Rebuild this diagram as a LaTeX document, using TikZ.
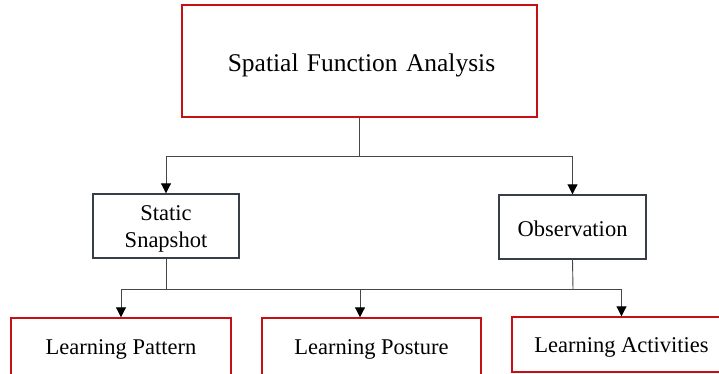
\documentclass[tikz,border=0pt]{standalone}
\usepackage{fontspec}
\setmainfont{Liberation Serif}
\usetikzlibrary{arrows.meta}
\definecolor{boxred}{RGB}{200,16,20}
\definecolor{boxgray}{RGB}{55,62,72}
\definecolor{linegray}{RGB}{70,70,70}
\tikzset{
  redbox/.style={draw=boxred, line width=1.4pt, rectangle, inner sep=0pt},
  graybox/.style={draw=boxgray, line width=1.4pt, rectangle, inner sep=0pt},
  txt/.style={inner sep=0pt, align=center, font=\fontsize{22.5}{27}\selectfont},
  conn/.style={draw=linegray, line width=0.9pt},
  arr/.style={conn, -{Triangle[length=10pt,width=10pt,color=black]}}
}
\begin{document}
\begin{tikzpicture}[x=1pt,y=-1pt]
\useasboundingbox (0,0) rectangle (719,373);
\clip (0,0) rectangle (719,373);
\fill[white] (0,0) rectangle (719,373);
% boxes
\node[redbox, minimum width=355pt, minimum height=112pt] (top) at (359.5,61) {};
\node[graybox, minimum width=146pt, minimum height=64pt] (stat) at (166,226) {};
\node[graybox, minimum width=147pt, minimum height=64pt] (obs) at (572.5,227) {};
\node[redbox, minimum width=220pt, minimum height=58pt] (pat) at (121,347) {};
\node[redbox, minimum width=219pt, minimum height=58pt] (post) at (371.5,347) {};
\node[redbox, minimum width=219pt, minimum height=55pt] (act) at (621.5,344.5) {};
% texts
\node[txt, font=\fontsize{25.5}{30}\selectfont, xshift=2pt, yshift=-4pt] (topt) at (top.center) {Spatial\kern2pt{} Function\kern2pt{} Analysis};
\node[txt, yshift=-3pt] (statt) at (stat.center) {Static\\Snapshot};
\node[txt, yshift=-1.5pt] (obst) at (obs.center) {Observation};
\node[txt, yshift=-2.5pt] (patt) at (pat.center) {Learning Pattern};
\node[txt, yshift=-2.5pt] (postt) at (post.center) {Learning Posture};
\node[txt, yshift=-2.5pt] (actt) at (act.center) {Learning Activities};
% connectors
\coordinate (b1) at (359.5,156);
\coordinate (b2) at (166,289.5);
\coordinate (b3) at (573,289.5);
\coordinate (bm) at (360,289.5);
\draw[conn] (top.south) -- (b1);
\draw[arr] (b1) -| (stat.north);
\draw[arr] (b1) -| (obs.north);
\draw[conn] (stat.south) -- (b2);
\draw[conn] (obs.south) -- (b3);
\draw[conn] (b2) -- (b3);
\draw[arr] (b2) -| (pat.north);
\draw[arr] (b3) -| (act.north);
\draw[arr] (bm) -- (bm |- post.north);
\end{tikzpicture}
\end{document}
